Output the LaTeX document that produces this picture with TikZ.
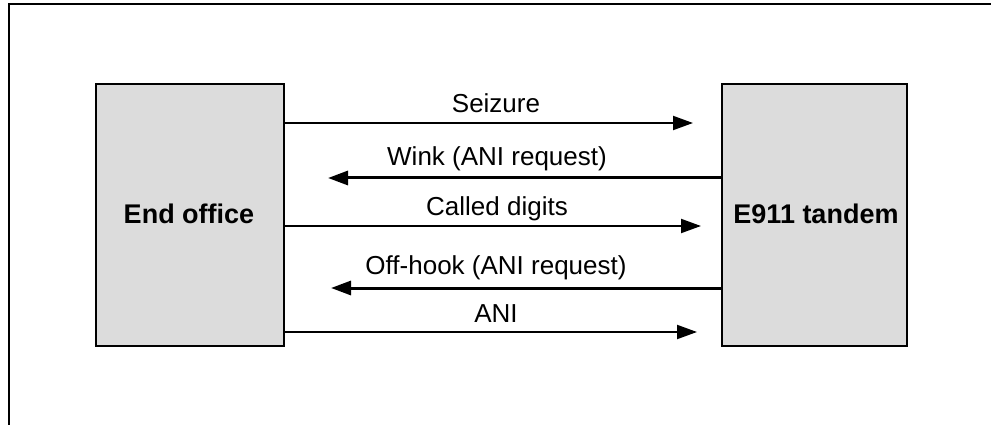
\documentclass[tikz,border=0pt]{standalone}
\usepackage{fontspec}
\setmainfont{Liberation Sans}
\usetikzlibrary{arrows.meta}
\begin{document}
\begin{tikzpicture}[x=1pt,y=-1pt,
  office/.style={draw=black,line width=1.5pt,fill=boxgray},
  msg/.style={line width=2pt,-{Triangle[length=20pt,width=14pt]}},
  msgthick/.style={line width=3pt,-{Triangle[length=20pt,width=14pt]}},
  lbl/.style={anchor=base,inner sep=0pt,font=\fontsize{26}{30}\selectfont},
  boxlbl/.style={anchor=base,inner sep=0pt,font=\fontsize{27}{30}\selectfont\bfseries}]
\definecolor{boxgray}{HTML}{DCDCDC}
\useasboundingbox (0,0) rectangle (991,425);
% frame
\draw[line width=2.4pt] (991,4) -- (9,4) -- (9,425);
% boxes
\draw[office] (96,84) rectangle (284,346);
\draw[office] (722,84) rectangle (907,346);
\node[boxlbl] (eolbl) at (189,223) {End office};
\node[boxlbl] (etlbl) at (816,223) {E911 tandem};
% end points
\coordinate (s1) at (284,123); \coordinate (t1) at (693,123);
\coordinate (s2) at (722,178); \coordinate (t2) at (328,178);
\coordinate (s3) at (284,226); \coordinate (t3) at (701,226);
\coordinate (s4) at (722,288); \coordinate (t4) at (331,288);
\coordinate (s5) at (284,332); \coordinate (t5) at (697,332);
\draw[msg] (s1) -- (t1);
\draw[msgthick] (s2) -- (t2);
\draw[msg] (s3) -- (t3);
\draw[msgthick] (s4) -- (t4);
\draw[msg] (s5) -- (t5);
\node[lbl] (l1) at (496,113) {Seizure};
\node[lbl] (l2) at (497,165) {Wink (ANI request)};
\node[lbl] (l3) at (497,215) {Called digits};
\node[lbl] (l4) at (496,274) {Off-hook (ANI request)};
\node[lbl] (l5) at (496,322) {ANI};
\end{tikzpicture}
\end{document}
